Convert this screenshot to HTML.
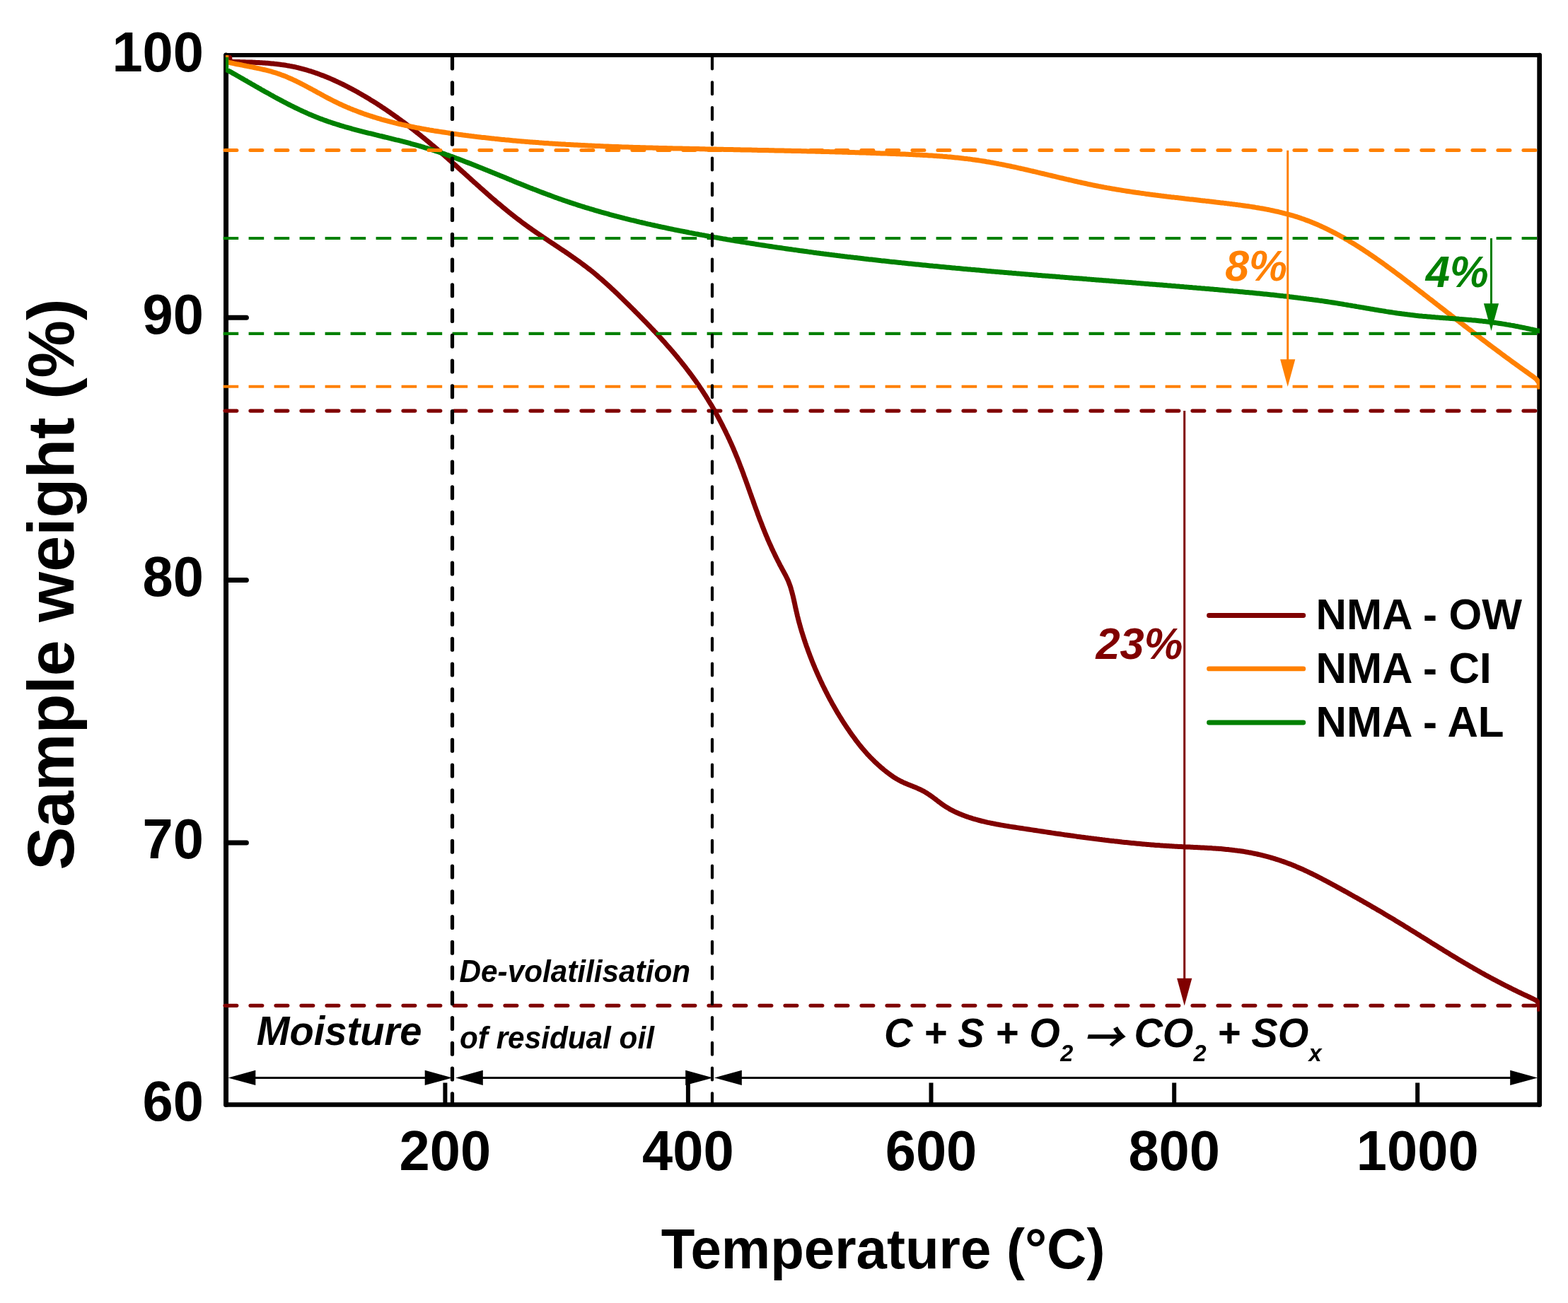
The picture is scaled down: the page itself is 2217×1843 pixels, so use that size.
<!DOCTYPE html>
<html lang="en"><head><meta charset="utf-8"><title>TGA - Sample weight vs Temperature</title>
<style>
html,body{margin:0;padding:0;background:#fff;}
body{width:2217px;height:1843px;overflow:hidden;}
svg{display:block;}
text{font-family:"Liberation Sans",Arial,Helvetica,sans-serif;}
.b{font-weight:bold;}
.bi{font-weight:bold;font-style:italic;}
.ar{font-family:"Noto Sans CJK SC","Noto Sans CJK JP","DejaVu Sans",sans-serif;}
</style></head><body>
<svg xmlns="http://www.w3.org/2000/svg" width="2217" height="1843" viewBox="0 0 2217 1843">
<rect x="0" y="0" width="2217" height="1843" fill="#ffffff"/>
<g stroke="#000" stroke-linecap="round" fill="none">
<line x1="319.55" y1="78.00" x2="2176.65" y2="78.00" stroke-width="6.2"/>
<line x1="319.55" y1="1562.45" x2="2176.65" y2="1562.45" stroke-width="6.5"/>
<line x1="319.55" y1="78.00" x2="319.55" y2="1562.45" stroke-width="7.0"/>
<line x1="2176.65" y1="78.00" x2="2176.65" y2="1562.45" stroke-width="6.7"/>
</g>
<g stroke="#000" stroke-width="6" stroke-linecap="butt">
<line x1="629.4" y1="1562.5" x2="629.4" y2="1531.5"/>
<line x1="972.9" y1="1562.5" x2="972.9" y2="1531.5"/>
<line x1="1316.5" y1="1562.5" x2="1316.5" y2="1531.5"/>
<line x1="1660.2" y1="1562.5" x2="1660.2" y2="1531.5"/>
<line x1="2004.2" y1="1562.5" x2="2004.2" y2="1531.5"/>
</g>
<g stroke="#000" stroke-width="7" stroke-linecap="round">
<line x1="319.6" y1="449.3" x2="348.4" y2="449.3"/>
<line x1="319.6" y1="820.4" x2="348.4" y2="820.4"/>
<line x1="319.6" y1="1192.0" x2="348.4" y2="1192.0"/>
</g>
<clipPath id="plot"><rect x="319.0" y="78.0" width="1858.0" height="1484.4"/></clipPath>
<g fill="none" stroke-width="7.0" stroke-linejoin="round" stroke-linecap="butt" clip-path="url(#plot)">
<path d="M320.1 81.0 L324.6 81.2 L325.6 86.8 L330.2 87.5 L332.2 87.5 L334.2 87.5 L336.2 87.6 L338.1 87.6 L340.1 87.7 L342.1 87.7 L344.1 87.8 L346.1 87.8 L348.1 87.9 L350.1 87.9 L352.1 88.0 L354.1 88.0 L356.1 88.1 L358.1 88.2 L360.1 88.3 L362.1 88.4 L364.1 88.5 L366.1 88.6 L368.1 88.7 L370.1 88.8 L372.1 88.9 L374.1 89.0 L376.1 89.2 L378.1 89.3 L380.1 89.5 L382.1 89.7 L384.1 89.9 L386.1 90.0 L388.1 90.3 L390.1 90.5 L392.1 90.7 L394.1 90.9 L396.1 91.2 L398.0 91.5 L400.0 91.7 L402.0 92.0 L404.0 92.3 L405.9 92.7 L407.9 93.0 L409.9 93.4 L411.8 93.7 L413.8 94.1 L415.7 94.5 L417.7 94.9 L419.6 95.4 L421.6 95.8 L423.5 96.3 L425.4 96.8 L427.4 97.3 L429.3 97.8 L431.2 98.4 L433.1 98.9 L435.0 99.5 L436.9 100.1 L438.9 100.6 L440.8 101.3 L442.6 101.9 L444.5 102.5 L446.4 103.2 L448.3 103.8 L450.2 104.5 L452.1 105.2 L453.9 105.9 L455.8 106.6 L457.7 107.3 L459.5 108.1 L461.4 108.8 L463.2 109.6 L465.1 110.3 L466.9 111.1 L468.7 111.9 L470.6 112.7 L472.4 113.5 L474.2 114.4 L476.0 115.2 L477.9 116.1 L479.7 116.9 L481.5 117.8 L483.3 118.6 L485.1 119.5 L486.9 120.4 L488.7 121.3 L490.4 122.2 L492.2 123.1 L494.0 124.1 L495.8 125.0 L497.5 125.9 L499.3 126.9 L501.1 127.8 L502.8 128.8 L504.6 129.8 L506.3 130.7 L508.0 131.7 L509.8 132.7 L511.5 133.7 L513.2 134.7 L515.0 135.7 L516.7 136.7 L518.4 137.8 L520.1 138.8 L521.8 139.8 L523.5 140.9 L525.2 141.9 L526.9 142.9 L528.6 144.0 L530.3 145.1 L532.0 146.1 L533.7 147.2 L535.3 148.3 L537.0 149.4 L538.7 150.5 L540.3 151.6 L542.0 152.7 L543.7 153.8 L545.3 154.9 L547.0 156.0 L548.6 157.2 L550.3 158.3 L551.9 159.4 L553.5 160.6 L555.2 161.7 L556.8 162.9 L558.4 164.0 L560.0 165.2 L561.7 166.3 L563.3 167.5 L564.9 168.7 L566.5 169.9 L568.1 171.1 L569.7 172.2 L571.3 173.4 L572.9 174.6 L574.5 175.8 L576.1 177.0 L577.7 178.3 L579.3 179.5 L580.9 180.7 L582.4 181.9 L584.0 183.1 L585.6 184.4 L587.2 185.6 L588.7 186.9 L590.3 188.1 L591.8 189.3 L593.4 190.6 L595.0 191.8 L596.5 193.1 L598.1 194.4 L599.6 195.6 L601.2 196.9 L602.7 198.2 L604.3 199.4 L605.8 200.7 L607.3 202.0 L608.9 203.3 L610.4 204.6 L611.9 205.9 L613.5 207.1 L615.0 208.4 L616.5 209.7 L618.0 211.0 L619.5 212.3 L621.1 213.6 L622.6 215.0 L624.1 216.3 L625.6 217.6 L627.1 218.9 L628.6 220.2 L630.1 221.5 L631.6 222.8 L633.1 224.2 L634.6 225.5 L636.1 226.8 L637.6 228.2 L639.1 229.5 L640.6 230.8 L642.1 232.1 L643.6 233.5 L645.1 234.8 L646.6 236.1 L648.0 237.5 L649.5 238.8 L651.0 240.2 L652.5 241.5 L654.0 242.8 L655.5 244.2 L657.0 245.5 L658.4 246.9 L659.9 248.2 L661.4 249.5 L662.9 250.9 L664.4 252.2 L665.9 253.6 L667.3 254.9 L668.8 256.2 L670.3 257.6 L671.8 258.9 L673.3 260.2 L674.8 261.6 L676.3 262.9 L677.8 264.2 L679.2 265.6 L680.7 266.9 L682.2 268.2 L683.7 269.5 L685.2 270.9 L686.7 272.2 L688.2 273.5 L689.7 274.8 L691.2 276.1 L692.7 277.5 L694.2 278.8 L695.7 280.1 L697.2 281.4 L698.8 282.7 L700.3 284.0 L701.8 285.3 L703.3 286.6 L704.8 287.9 L706.4 289.1 L707.9 290.4 L709.4 291.7 L710.9 293.0 L712.5 294.3 L714.0 295.5 L715.6 296.8 L717.1 298.1 L718.7 299.3 L720.2 300.6 L721.8 301.8 L723.3 303.1 L724.9 304.3 L726.5 305.5 L728.0 306.8 L729.6 308.0 L731.2 309.2 L732.8 310.4 L734.4 311.6 L735.9 312.8 L737.5 314.0 L739.1 315.2 L740.7 316.4 L742.4 317.6 L744.0 318.8 L745.6 320.0 L747.2 321.1 L748.8 322.3 L750.5 323.4 L752.1 324.6 L753.8 325.7 L755.4 326.9 L757.0 328.0 L758.7 329.2 L760.3 330.3 L762.0 331.4 L763.7 332.5 L765.3 333.7 L767.0 334.8 L768.6 335.9 L770.3 337.0 L772.0 338.1 L773.6 339.2 L775.3 340.4 L777.0 341.5 L778.7 342.6 L780.3 343.7 L782.0 344.8 L783.7 345.9 L785.3 347.0 L787.0 348.1 L788.7 349.2 L790.3 350.3 L792.0 351.5 L793.7 352.6 L795.3 353.7 L797.0 354.8 L798.7 355.9 L800.3 357.0 L802.0 358.2 L803.6 359.3 L805.3 360.4 L806.9 361.6 L808.6 362.7 L810.2 363.9 L811.9 365.0 L813.5 366.2 L815.1 367.3 L816.7 368.5 L818.4 369.6 L820.0 370.8 L821.6 372.0 L823.2 373.2 L824.8 374.4 L826.4 375.6 L828.0 376.8 L829.6 378.0 L831.2 379.2 L832.7 380.4 L834.3 381.6 L835.9 382.9 L837.4 384.1 L839.0 385.4 L840.5 386.6 L842.0 387.9 L843.6 389.2 L845.1 390.5 L846.6 391.8 L848.1 393.1 L849.6 394.4 L851.1 395.7 L852.6 397.0 L854.1 398.3 L855.6 399.6 L857.1 401.0 L858.6 402.3 L860.0 403.6 L861.5 405.0 L863.0 406.3 L864.4 407.7 L865.9 409.1 L867.3 410.4 L868.8 411.8 L870.2 413.2 L871.7 414.5 L873.1 415.9 L874.6 417.3 L876.0 418.7 L877.4 420.1 L878.9 421.5 L880.3 422.9 L881.7 424.3 L883.2 425.7 L884.6 427.1 L886.0 428.5 L887.4 429.9 L888.9 431.3 L890.3 432.7 L891.7 434.1 L893.1 435.5 L894.5 436.9 L895.9 438.3 L897.4 439.8 L898.8 441.2 L900.2 442.6 L901.6 444.0 L903.0 445.4 L904.4 446.9 L905.8 448.3 L907.2 449.7 L908.6 451.1 L910.0 452.6 L911.4 454.0 L912.8 455.4 L914.2 456.9 L915.6 458.3 L917.0 459.8 L918.3 461.2 L919.7 462.7 L921.1 464.1 L922.5 465.6 L923.8 467.0 L925.2 468.5 L926.6 469.9 L927.9 471.4 L929.3 472.9 L930.7 474.3 L932.0 475.8 L933.4 477.3 L934.7 478.8 L936.0 480.3 L937.4 481.7 L938.7 483.2 L940.1 484.7 L941.4 486.2 L942.7 487.7 L944.0 489.2 L945.3 490.7 L946.7 492.2 L948.0 493.7 L949.3 495.2 L950.6 496.7 L951.9 498.3 L953.2 499.8 L954.4 501.3 L955.7 502.8 L957.0 504.4 L958.3 505.9 L959.5 507.5 L960.8 509.0 L962.1 510.5 L963.3 512.1 L964.6 513.7 L965.8 515.2 L967.0 516.8 L968.3 518.3 L969.5 519.9 L970.7 521.5 L971.9 523.1 L973.1 524.7 L974.3 526.3 L975.5 527.8 L976.7 529.4 L977.9 531.0 L979.1 532.7 L980.3 534.3 L981.4 535.9 L982.6 537.5 L983.7 539.1 L984.9 540.8 L986.0 542.4 L987.2 544.0 L988.3 545.7 L989.4 547.3 L990.5 549.0 L991.7 550.6 L992.8 552.3 L993.8 554.0 L994.9 555.6 L996.0 557.3 L997.1 559.0 L998.2 560.7 L999.2 562.4 L1000.3 564.1 L1001.3 565.8 L1002.4 567.5 L1003.4 569.2 L1004.4 570.9 L1005.5 572.6 L1006.5 574.3 L1007.5 576.1 L1008.5 577.8 L1009.5 579.5 L1010.5 581.3 L1011.5 583.0 L1012.4 584.7 L1013.4 586.5 L1014.4 588.2 L1015.3 590.0 L1016.3 591.8 L1017.2 593.5 L1018.1 595.3 L1019.1 597.1 L1020.0 598.8 L1020.9 600.6 L1021.8 602.4 L1022.7 604.2 L1023.6 606.0 L1024.5 607.8 L1025.4 609.6 L1026.3 611.4 L1027.1 613.2 L1028.0 615.0 L1028.9 616.8 L1029.7 618.6 L1030.6 620.4 L1031.4 622.2 L1032.2 624.0 L1033.1 625.9 L1033.9 627.7 L1034.7 629.5 L1035.5 631.3 L1036.3 633.2 L1037.1 635.0 L1037.9 636.9 L1038.6 638.7 L1039.4 640.5 L1040.2 642.4 L1040.9 644.2 L1041.7 646.1 L1042.5 647.9 L1043.2 649.8 L1043.9 651.7 L1044.7 653.5 L1045.4 655.4 L1046.1 657.2 L1046.8 659.1 L1047.5 661.0 L1048.3 662.8 L1049.0 664.7 L1049.7 666.6 L1050.4 668.4 L1051.1 670.3 L1051.7 672.2 L1052.4 674.1 L1053.1 675.9 L1053.8 677.8 L1054.5 679.7 L1055.2 681.6 L1055.8 683.5 L1056.5 685.3 L1057.2 687.2 L1057.9 689.1 L1058.5 691.0 L1059.2 692.9 L1059.9 694.8 L1060.5 696.6 L1061.2 698.5 L1061.9 700.4 L1062.5 702.3 L1063.2 704.2 L1063.9 706.0 L1064.6 707.9 L1065.2 709.8 L1065.9 711.7 L1066.6 713.6 L1067.2 715.4 L1067.9 717.3 L1068.6 719.2 L1069.3 721.1 L1070.0 723.0 L1070.7 724.8 L1071.3 726.7 L1072.0 728.6 L1072.7 730.4 L1073.4 732.3 L1074.1 734.2 L1074.8 736.1 L1075.6 737.9 L1076.3 739.8 L1077.0 741.6 L1077.7 743.5 L1078.4 745.4 L1079.2 747.2 L1079.9 749.1 L1080.7 750.9 L1081.4 752.8 L1082.2 754.6 L1082.9 756.5 L1083.7 758.3 L1084.5 760.1 L1085.2 762.0 L1086.0 763.8 L1086.8 765.6 L1087.6 767.5 L1088.4 769.3 L1089.3 771.1 L1090.1 772.9 L1090.9 774.8 L1091.7 776.6 L1092.6 778.4 L1093.4 780.2 L1094.3 782.0 L1095.2 783.8 L1096.0 785.6 L1096.9 787.4 L1097.8 789.2 L1098.7 791.0 L1099.6 792.8 L1100.5 794.5 L1101.4 796.3 L1102.3 798.1 L1103.2 799.9 L1104.2 801.6 L1105.1 803.4 L1106.1 805.2 L1107.0 806.9 L1108.0 808.7 L1108.9 810.4 L1109.9 812.2 L1110.8 813.9 L1111.7 815.7 L1112.6 817.5 L1113.4 819.3 L1114.3 821.1 L1115.0 822.9 L1115.7 824.8 L1116.4 826.7 L1117.1 828.5 L1117.7 830.4 L1118.3 832.3 L1118.8 834.2 L1119.4 836.2 L1119.9 838.1 L1120.4 840.0 L1120.9 842.0 L1121.4 843.9 L1121.8 845.9 L1122.3 847.8 L1122.7 849.8 L1123.1 851.7 L1123.6 853.7 L1124.0 855.6 L1124.4 857.6 L1124.8 859.6 L1125.3 861.5 L1125.7 863.5 L1126.2 865.4 L1126.6 867.4 L1127.1 869.3 L1127.5 871.3 L1128.0 873.2 L1128.5 875.2 L1129.0 877.1 L1129.5 879.0 L1130.0 881.0 L1130.6 882.9 L1131.1 884.8 L1131.6 886.8 L1132.2 888.7 L1132.8 890.6 L1133.3 892.5 L1133.9 894.4 L1134.5 896.3 L1135.1 898.2 L1135.7 900.1 L1136.3 902.0 L1136.9 903.9 L1137.5 905.8 L1138.2 907.7 L1138.8 909.6 L1139.5 911.5 L1140.1 913.4 L1140.8 915.2 L1141.5 917.1 L1142.1 919.0 L1142.8 920.9 L1143.5 922.8 L1144.2 924.6 L1144.9 926.5 L1145.6 928.4 L1146.3 930.2 L1147.1 932.1 L1147.8 933.9 L1148.5 935.8 L1149.3 937.6 L1150.0 939.5 L1150.8 941.3 L1151.6 943.2 L1152.3 945.0 L1153.1 946.9 L1153.9 948.7 L1154.7 950.5 L1155.5 952.4 L1156.3 954.2 L1157.1 956.0 L1158.0 957.8 L1158.8 959.7 L1159.6 961.5 L1160.5 963.3 L1161.3 965.1 L1162.2 966.9 L1163.0 968.7 L1163.9 970.5 L1164.8 972.3 L1165.7 974.1 L1166.6 975.9 L1167.5 977.7 L1168.4 979.5 L1169.3 981.2 L1170.2 983.0 L1171.1 984.8 L1172.1 986.6 L1173.0 988.3 L1173.9 990.1 L1174.9 991.8 L1175.9 993.6 L1176.8 995.3 L1177.8 997.1 L1178.8 998.8 L1179.8 1000.6 L1180.8 1002.3 L1181.8 1004.0 L1182.8 1005.8 L1183.8 1007.5 L1184.8 1009.2 L1185.9 1010.9 L1186.9 1012.6 L1188.0 1014.3 L1189.0 1016.0 L1190.1 1017.7 L1191.1 1019.4 L1192.2 1021.1 L1193.3 1022.8 L1194.4 1024.4 L1195.5 1026.1 L1196.6 1027.8 L1197.7 1029.4 L1198.8 1031.1 L1200.0 1032.7 L1201.1 1034.4 L1202.2 1036.0 L1203.4 1037.7 L1204.5 1039.3 L1205.7 1040.9 L1206.9 1042.5 L1208.1 1044.1 L1209.2 1045.7 L1210.4 1047.3 L1211.6 1048.9 L1212.9 1050.5 L1214.1 1052.1 L1215.3 1053.6 L1216.6 1055.2 L1217.8 1056.7 L1219.1 1058.3 L1220.4 1059.8 L1221.7 1061.3 L1223.0 1062.8 L1224.3 1064.3 L1225.6 1065.8 L1227.0 1067.3 L1228.3 1068.7 L1229.7 1070.2 L1231.1 1071.6 L1232.5 1073.0 L1233.9 1074.4 L1235.3 1075.8 L1236.7 1077.2 L1238.2 1078.6 L1239.6 1079.9 L1241.1 1081.3 L1242.6 1082.6 L1244.1 1084.0 L1245.6 1085.3 L1247.1 1086.6 L1248.6 1087.8 L1250.1 1089.1 L1251.7 1090.4 L1253.2 1091.6 L1254.8 1092.8 L1256.4 1094.0 L1258.0 1095.2 L1259.6 1096.3 L1261.2 1097.5 L1262.8 1098.6 L1264.5 1099.7 L1266.2 1100.7 L1267.8 1101.7 L1269.6 1102.7 L1271.3 1103.7 L1273.0 1104.6 L1274.8 1105.5 L1276.6 1106.4 L1278.4 1107.2 L1280.2 1108.0 L1282.1 1108.8 L1283.9 1109.6 L1285.8 1110.3 L1287.7 1111.1 L1289.6 1111.8 L1291.4 1112.6 L1293.3 1113.3 L1295.2 1114.1 L1297.0 1114.9 L1298.8 1115.7 L1300.7 1116.5 L1302.5 1117.4 L1304.3 1118.3 L1306.0 1119.2 L1307.8 1120.2 L1309.5 1121.2 L1311.2 1122.3 L1312.8 1123.4 L1314.5 1124.5 L1316.1 1125.6 L1317.8 1126.8 L1319.4 1128.0 L1321.0 1129.2 L1322.6 1130.4 L1324.2 1131.6 L1325.8 1132.9 L1327.4 1134.1 L1329.0 1135.3 L1330.6 1136.5 L1332.2 1137.6 L1333.9 1138.8 L1335.5 1139.9 L1337.2 1141.0 L1338.9 1142.1 L1340.6 1143.1 L1342.3 1144.1 L1344.1 1145.1 L1345.8 1146.0 L1347.6 1146.9 L1349.4 1147.8 L1351.2 1148.7 L1353.0 1149.5 L1354.8 1150.3 L1356.6 1151.1 L1358.5 1151.8 L1360.3 1152.6 L1362.2 1153.3 L1364.1 1154.0 L1365.9 1154.7 L1367.8 1155.3 L1369.7 1156.0 L1371.6 1156.6 L1373.5 1157.2 L1375.4 1157.8 L1377.3 1158.3 L1379.2 1158.9 L1381.1 1159.4 L1383.0 1160.0 L1385.0 1160.5 L1386.9 1161.0 L1388.8 1161.5 L1390.8 1161.9 L1392.7 1162.4 L1394.6 1162.8 L1396.6 1163.3 L1398.5 1163.7 L1400.5 1164.1 L1402.4 1164.5 L1404.4 1164.9 L1406.4 1165.3 L1408.3 1165.7 L1410.3 1166.0 L1412.2 1166.4 L1414.2 1166.8 L1416.2 1167.1 L1418.2 1167.4 L1420.1 1167.8 L1422.1 1168.1 L1424.1 1168.4 L1426.1 1168.8 L1428.0 1169.1 L1430.0 1169.4 L1432.0 1169.7 L1434.0 1170.0 L1435.9 1170.3 L1437.9 1170.6 L1439.9 1170.9 L1441.9 1171.2 L1443.9 1171.5 L1445.9 1171.8 L1447.8 1172.1 L1449.8 1172.4 L1451.8 1172.7 L1453.8 1173.0 L1455.7 1173.3 L1457.7 1173.6 L1459.7 1173.9 L1461.7 1174.2 L1463.7 1174.5 L1465.6 1174.8 L1467.6 1175.1 L1469.6 1175.4 L1471.6 1175.7 L1473.6 1176.0 L1475.5 1176.3 L1477.5 1176.6 L1479.5 1176.9 L1481.5 1177.2 L1483.5 1177.5 L1485.4 1177.8 L1487.4 1178.1 L1489.4 1178.4 L1491.4 1178.7 L1493.3 1179.0 L1495.3 1179.2 L1497.3 1179.5 L1499.3 1179.8 L1501.3 1180.1 L1503.2 1180.4 L1505.2 1180.7 L1507.2 1180.9 L1509.2 1181.2 L1511.2 1181.5 L1513.1 1181.8 L1515.1 1182.1 L1517.1 1182.3 L1519.1 1182.6 L1521.1 1182.9 L1523.0 1183.2 L1525.0 1183.4 L1527.0 1183.7 L1529.0 1184.0 L1531.0 1184.2 L1532.9 1184.5 L1534.9 1184.8 L1536.9 1185.0 L1538.9 1185.3 L1540.9 1185.5 L1542.8 1185.8 L1544.8 1186.0 L1546.8 1186.3 L1548.8 1186.5 L1550.8 1186.8 L1552.7 1187.0 L1554.7 1187.3 L1556.7 1187.5 L1558.7 1187.8 L1560.7 1188.0 L1562.6 1188.3 L1564.6 1188.5 L1566.6 1188.7 L1568.6 1189.0 L1570.6 1189.2 L1572.6 1189.4 L1574.5 1189.6 L1576.5 1189.9 L1578.5 1190.1 L1580.5 1190.3 L1582.5 1190.5 L1584.5 1190.7 L1586.4 1191.0 L1588.4 1191.2 L1590.4 1191.4 L1592.4 1191.6 L1594.4 1191.8 L1596.4 1192.0 L1598.4 1192.2 L1600.3 1192.4 L1602.3 1192.6 L1604.3 1192.8 L1606.3 1193.0 L1608.3 1193.2 L1610.3 1193.3 L1612.3 1193.5 L1614.3 1193.7 L1616.2 1193.9 L1618.2 1194.1 L1620.2 1194.2 L1622.2 1194.4 L1624.2 1194.6 L1626.2 1194.7 L1628.2 1194.9 L1630.2 1195.0 L1632.2 1195.2 L1634.2 1195.4 L1636.2 1195.5 L1638.2 1195.6 L1640.1 1195.8 L1642.1 1195.9 L1644.1 1196.1 L1646.1 1196.2 L1648.1 1196.3 L1650.1 1196.5 L1652.1 1196.6 L1654.1 1196.7 L1656.1 1196.8 L1658.1 1196.9 L1660.1 1197.1 L1662.1 1197.2 L1664.1 1197.3 L1666.1 1197.4 L1668.1 1197.5 L1670.1 1197.6 L1672.1 1197.7 L1674.1 1197.8 L1676.1 1197.9 L1678.1 1197.9 L1680.1 1198.0 L1682.1 1198.1 L1684.1 1198.2 L1686.1 1198.3 L1688.1 1198.4 L1690.1 1198.5 L1692.1 1198.6 L1694.1 1198.7 L1696.1 1198.8 L1698.1 1198.9 L1700.1 1199.0 L1702.1 1199.1 L1704.1 1199.2 L1706.1 1199.3 L1708.1 1199.4 L1710.1 1199.5 L1712.1 1199.6 L1714.1 1199.8 L1716.1 1199.9 L1718.1 1200.0 L1720.1 1200.2 L1722.1 1200.3 L1724.1 1200.5 L1726.0 1200.6 L1728.0 1200.8 L1730.0 1201.0 L1732.0 1201.2 L1734.0 1201.4 L1736.0 1201.5 L1738.0 1201.8 L1740.0 1202.0 L1741.9 1202.2 L1743.9 1202.4 L1745.9 1202.7 L1747.9 1202.9 L1749.9 1203.2 L1751.8 1203.4 L1753.8 1203.7 L1755.8 1204.0 L1757.8 1204.3 L1759.7 1204.6 L1761.7 1205.0 L1763.7 1205.3 L1765.6 1205.7 L1767.6 1206.0 L1769.6 1206.4 L1771.5 1206.8 L1773.5 1207.2 L1775.4 1207.6 L1777.4 1208.0 L1779.3 1208.5 L1781.3 1208.9 L1783.2 1209.4 L1785.2 1209.9 L1787.1 1210.4 L1789.0 1210.9 L1791.0 1211.4 L1792.9 1211.9 L1794.8 1212.4 L1796.8 1213.0 L1798.7 1213.5 L1800.6 1214.1 L1802.5 1214.7 L1804.4 1215.3 L1806.3 1215.9 L1808.2 1216.5 L1810.1 1217.1 L1812.0 1217.8 L1813.9 1218.4 L1815.8 1219.1 L1817.7 1219.8 L1819.5 1220.5 L1821.4 1221.2 L1823.3 1221.9 L1825.1 1222.6 L1827.0 1223.3 L1828.8 1224.1 L1830.7 1224.8 L1832.5 1225.6 L1834.4 1226.4 L1836.2 1227.2 L1838.0 1228.0 L1839.8 1228.8 L1841.7 1229.6 L1843.5 1230.4 L1845.3 1231.3 L1847.1 1232.1 L1848.9 1232.9 L1850.7 1233.8 L1852.5 1234.7 L1854.3 1235.5 L1856.1 1236.4 L1857.9 1237.3 L1859.7 1238.2 L1861.5 1239.1 L1863.3 1240.0 L1865.0 1240.9 L1866.8 1241.8 L1868.6 1242.7 L1870.4 1243.7 L1872.1 1244.6 L1873.9 1245.5 L1875.7 1246.5 L1877.4 1247.4 L1879.2 1248.4 L1881.0 1249.3 L1882.7 1250.3 L1884.5 1251.2 L1886.2 1252.2 L1888.0 1253.1 L1889.7 1254.1 L1891.5 1255.1 L1893.3 1256.0 L1895.0 1257.0 L1896.8 1257.9 L1898.5 1258.9 L1900.3 1259.9 L1902.0 1260.8 L1903.8 1261.8 L1905.5 1262.8 L1907.2 1263.8 L1909.0 1264.7 L1910.7 1265.7 L1912.5 1266.7 L1914.2 1267.7 L1916.0 1268.7 L1917.7 1269.6 L1919.4 1270.6 L1921.2 1271.6 L1922.9 1272.6 L1924.7 1273.6 L1926.4 1274.6 L1928.1 1275.6 L1929.9 1276.6 L1931.6 1277.6 L1933.3 1278.6 L1935.1 1279.5 L1936.8 1280.5 L1938.5 1281.5 L1940.2 1282.6 L1942.0 1283.6 L1943.7 1284.6 L1945.4 1285.6 L1947.1 1286.6 L1948.9 1287.6 L1950.6 1288.6 L1952.3 1289.6 L1954.0 1290.6 L1955.7 1291.6 L1957.5 1292.7 L1959.2 1293.7 L1960.9 1294.7 L1962.6 1295.7 L1964.3 1296.7 L1966.0 1297.8 L1967.8 1298.8 L1969.5 1299.8 L1971.2 1300.8 L1972.9 1301.9 L1974.6 1302.9 L1976.3 1303.9 L1978.0 1305.0 L1979.7 1306.0 L1981.4 1307.1 L1983.1 1308.1 L1984.8 1309.1 L1986.5 1310.2 L1988.2 1311.2 L1989.9 1312.3 L1991.6 1313.3 L1993.3 1314.4 L1995.0 1315.4 L1996.7 1316.5 L1998.4 1317.5 L2000.1 1318.6 L2001.8 1319.6 L2003.5 1320.7 L2005.2 1321.7 L2006.9 1322.8 L2008.6 1323.9 L2010.3 1324.9 L2012.0 1326.0 L2013.7 1327.0 L2015.4 1328.1 L2017.1 1329.1 L2018.8 1330.2 L2020.4 1331.3 L2022.1 1332.3 L2023.8 1333.4 L2025.5 1334.4 L2027.2 1335.5 L2028.9 1336.5 L2030.6 1337.6 L2032.3 1338.6 L2034.0 1339.7 L2035.7 1340.7 L2037.4 1341.8 L2039.1 1342.8 L2040.8 1343.9 L2042.5 1344.9 L2044.2 1346.0 L2045.9 1347.0 L2047.6 1348.1 L2049.3 1349.1 L2051.0 1350.2 L2052.7 1351.2 L2054.4 1352.2 L2056.1 1353.3 L2057.8 1354.3 L2059.5 1355.3 L2061.3 1356.4 L2063.0 1357.4 L2064.7 1358.4 L2066.4 1359.5 L2068.1 1360.5 L2069.8 1361.5 L2071.5 1362.5 L2073.3 1363.5 L2075.0 1364.5 L2076.7 1365.6 L2078.4 1366.6 L2080.2 1367.6 L2081.9 1368.6 L2083.6 1369.6 L2085.4 1370.6 L2087.1 1371.5 L2088.8 1372.5 L2090.6 1373.5 L2092.3 1374.5 L2094.0 1375.5 L2095.8 1376.5 L2097.5 1377.4 L2099.3 1378.4 L2101.0 1379.4 L2102.8 1380.3 L2104.5 1381.3 L2106.3 1382.2 L2108.1 1383.2 L2109.8 1384.1 L2111.6 1385.1 L2113.4 1386.0 L2115.1 1386.9 L2116.9 1387.9 L2118.7 1388.8 L2120.4 1389.7 L2122.2 1390.6 L2124.0 1391.6 L2125.8 1392.5 L2127.5 1393.4 L2129.3 1394.3 L2131.1 1395.2 L2132.9 1396.1 L2134.7 1397.0 L2136.5 1397.9 L2138.3 1398.8 L2140.0 1399.7 L2141.8 1400.5 L2143.6 1401.4 L2145.4 1402.3 L2147.2 1403.2 L2149.0 1404.0 L2150.8 1404.9 L2152.6 1405.8 L2154.4 1406.6 L2156.3 1407.5 L2158.1 1408.3 L2159.9 1409.1 L2161.7 1410.0 L2163.5 1410.8 L2165.3 1411.7 L2167.1 1412.5 L2172.6 1415.4 L2176.0 1419.5 L2176.9 1430.5" stroke="#800000"/>
<path d="M319.6 77.0 L319.9 86.5 L323.0 88.2 L324.9 88.6 L326.9 89.0 L328.8 89.4 L330.8 89.9 L332.7 90.3 L334.7 90.7 L336.6 91.0 L338.6 91.4 L340.6 91.8 L342.5 92.2 L344.5 92.6 L346.5 93.0 L348.4 93.4 L350.4 93.7 L352.4 94.1 L354.4 94.5 L356.3 94.9 L358.3 95.3 L360.3 95.7 L362.2 96.1 L364.2 96.5 L366.1 96.9 L368.1 97.4 L370.1 97.8 L372.0 98.3 L374.0 98.7 L375.9 99.2 L377.8 99.7 L379.8 100.2 L381.7 100.7 L383.6 101.2 L385.6 101.8 L387.5 102.4 L389.4 102.9 L391.3 103.5 L393.2 104.2 L395.1 104.8 L396.9 105.5 L398.8 106.2 L400.7 106.9 L402.5 107.6 L404.4 108.3 L406.2 109.1 L408.1 109.9 L409.9 110.7 L411.7 111.5 L413.5 112.3 L415.3 113.2 L417.2 114.0 L419.0 114.9 L420.8 115.8 L422.6 116.7 L424.4 117.6 L426.2 118.5 L427.9 119.4 L429.7 120.3 L431.5 121.3 L433.3 122.2 L435.1 123.2 L436.8 124.1 L438.6 125.1 L440.4 126.0 L442.2 127.0 L443.9 128.0 L445.7 128.9 L447.5 129.9 L449.2 130.9 L451.0 131.8 L452.8 132.8 L454.5 133.8 L456.3 134.7 L458.1 135.7 L459.9 136.7 L461.6 137.6 L463.4 138.6 L465.2 139.5 L467.0 140.4 L468.8 141.3 L470.6 142.3 L472.4 143.2 L474.2 144.0 L476.0 144.9 L477.8 145.8 L479.6 146.7 L481.4 147.5 L483.2 148.3 L485.0 149.2 L486.8 150.0 L488.7 150.8 L490.5 151.6 L492.3 152.4 L494.2 153.1 L496.0 153.9 L497.8 154.6 L499.7 155.4 L501.5 156.1 L503.4 156.8 L505.3 157.5 L507.1 158.2 L509.0 158.9 L510.9 159.6 L512.7 160.3 L514.6 161.0 L516.5 161.6 L518.4 162.3 L520.2 162.9 L522.1 163.5 L524.0 164.1 L525.9 164.7 L527.8 165.3 L529.7 165.9 L531.6 166.5 L533.5 167.1 L535.4 167.7 L537.3 168.2 L539.2 168.8 L541.1 169.3 L543.0 169.8 L545.0 170.4 L546.9 170.9 L548.8 171.4 L550.7 171.9 L552.6 172.4 L554.6 172.9 L556.5 173.4 L558.4 173.9 L560.4 174.3 L562.3 174.8 L564.2 175.3 L566.2 175.7 L568.1 176.2 L570.1 176.6 L572.0 177.0 L574.0 177.5 L575.9 177.9 L577.9 178.3 L579.8 178.7 L581.8 179.1 L583.7 179.5 L585.7 179.9 L587.6 180.3 L589.6 180.7 L591.6 181.0 L593.5 181.4 L595.5 181.8 L597.4 182.1 L599.4 182.5 L601.4 182.8 L603.3 183.2 L605.3 183.5 L607.3 183.9 L609.3 184.2 L611.2 184.5 L613.2 184.9 L615.2 185.2 L617.1 185.5 L619.1 185.8 L621.1 186.1 L623.1 186.4 L625.0 186.7 L627.0 187.0 L629.0 187.3 L631.0 187.6 L633.0 187.9 L634.9 188.2 L636.9 188.5 L638.9 188.8 L640.9 189.1 L642.8 189.4 L644.8 189.6 L646.8 189.9 L648.8 190.2 L650.8 190.4 L652.8 190.7 L654.7 191.0 L656.7 191.2 L658.7 191.5 L660.7 191.7 L662.7 192.0 L664.6 192.2 L666.6 192.5 L668.6 192.7 L670.6 193.0 L672.6 193.2 L674.6 193.5 L676.5 193.7 L678.5 193.9 L680.5 194.2 L682.5 194.4 L684.5 194.6 L686.5 194.8 L688.5 195.1 L690.4 195.3 L692.4 195.5 L694.4 195.7 L696.4 195.9 L698.4 196.1 L700.4 196.4 L702.4 196.6 L704.4 196.8 L706.3 197.0 L708.3 197.2 L710.3 197.4 L712.3 197.6 L714.3 197.8 L716.3 197.9 L718.3 198.1 L720.3 198.3 L722.3 198.5 L724.2 198.7 L726.2 198.9 L728.2 199.0 L730.2 199.2 L732.2 199.4 L734.2 199.6 L736.2 199.7 L738.2 199.9 L740.2 200.1 L742.2 200.2 L744.2 200.4 L746.1 200.6 L748.1 200.7 L750.1 200.9 L752.1 201.0 L754.1 201.2 L756.1 201.3 L758.1 201.5 L760.1 201.6 L762.1 201.8 L764.1 201.9 L766.1 202.1 L768.1 202.2 L770.1 202.4 L772.1 202.5 L774.1 202.6 L776.0 202.8 L778.0 202.9 L780.0 203.0 L782.0 203.2 L784.0 203.3 L786.0 203.4 L788.0 203.5 L790.0 203.7 L792.0 203.8 L794.0 203.9 L796.0 204.0 L798.0 204.1 L800.0 204.3 L802.0 204.4 L804.0 204.5 L806.0 204.6 L808.0 204.7 L810.0 204.8 L812.0 204.9 L814.0 205.0 L816.0 205.1 L818.0 205.2 L820.0 205.3 L822.0 205.4 L824.0 205.5 L826.0 205.6 L828.0 205.7 L830.0 205.8 L832.0 205.9 L834.0 206.0 L836.0 206.1 L837.9 206.2 L839.9 206.3 L841.9 206.4 L843.9 206.5 L845.9 206.6 L847.9 206.6 L849.9 206.7 L851.9 206.8 L853.9 206.9 L855.9 207.0 L857.9 207.0 L859.9 207.1 L861.9 207.2 L863.9 207.3 L865.9 207.4 L867.9 207.4 L869.9 207.5 L871.9 207.6 L873.9 207.6 L875.9 207.7 L877.9 207.8 L879.9 207.9 L881.9 207.9 L883.9 208.0 L885.9 208.1 L887.9 208.1 L889.9 208.2 L891.9 208.2 L893.9 208.3 L895.9 208.4 L897.9 208.4 L899.9 208.5 L901.9 208.6 L903.9 208.6 L905.9 208.7 L907.9 208.7 L909.9 208.8 L911.9 208.8 L913.9 208.9 L915.9 209.0 L917.9 209.0 L919.9 209.1 L921.9 209.1 L923.9 209.2 L925.9 209.2 L927.9 209.3 L929.9 209.3 L931.9 209.4 L933.9 209.4 L935.9 209.5 L937.9 209.5 L939.9 209.6 L941.9 209.6 L943.9 209.7 L945.9 209.7 L947.9 209.8 L949.9 209.8 L951.9 209.9 L953.9 209.9 L955.9 209.9 L957.9 210.0 L959.9 210.0 L961.9 210.1 L963.9 210.1 L965.9 210.2 L967.9 210.2 L969.9 210.3 L971.9 210.3 L973.9 210.3 L975.9 210.4 L977.9 210.4 L979.9 210.5 L981.9 210.5 L983.9 210.6 L985.9 210.6 L987.9 210.6 L989.9 210.7 L991.9 210.7 L993.9 210.8 L995.9 210.8 L997.9 210.9 L999.9 210.9 L1001.9 210.9 L1003.9 211.0 L1005.9 211.0 L1007.9 211.1 L1009.9 211.1 L1011.9 211.1 L1013.9 211.2 L1015.9 211.2 L1017.9 211.3 L1019.9 211.3 L1021.9 211.3 L1023.9 211.4 L1025.9 211.4 L1027.9 211.5 L1029.9 211.5 L1031.9 211.5 L1033.9 211.6 L1035.9 211.6 L1037.9 211.7 L1039.9 211.7 L1041.9 211.7 L1043.9 211.8 L1045.9 211.8 L1047.8 211.9 L1049.8 211.9 L1051.8 211.9 L1053.8 212.0 L1055.8 212.0 L1057.8 212.1 L1059.8 212.1 L1061.8 212.1 L1063.8 212.2 L1065.8 212.2 L1067.8 212.3 L1069.8 212.3 L1071.8 212.4 L1073.8 212.4 L1075.8 212.4 L1077.8 212.5 L1079.8 212.5 L1081.8 212.6 L1083.8 212.6 L1085.8 212.6 L1087.8 212.7 L1089.8 212.7 L1091.8 212.8 L1093.8 212.8 L1095.8 212.9 L1097.8 212.9 L1099.8 212.9 L1101.8 213.0 L1103.8 213.0 L1105.8 213.1 L1107.8 213.1 L1109.8 213.2 L1111.8 213.2 L1113.8 213.2 L1115.7 213.3 L1117.7 213.3 L1119.7 213.4 L1121.7 213.4 L1123.7 213.5 L1125.7 213.5 L1127.7 213.6 L1129.7 213.6 L1131.7 213.6 L1133.7 213.7 L1135.7 213.7 L1137.7 213.8 L1139.7 213.8 L1141.7 213.9 L1143.7 213.9 L1145.7 214.0 L1147.7 214.0 L1149.7 214.1 L1151.7 214.1 L1153.7 214.2 L1155.7 214.2 L1157.7 214.3 L1159.7 214.3 L1161.7 214.4 L1163.7 214.4 L1165.7 214.5 L1167.7 214.5 L1169.7 214.6 L1171.7 214.6 L1173.7 214.7 L1175.7 214.7 L1177.7 214.8 L1179.7 214.8 L1181.7 214.9 L1183.6 214.9 L1185.6 215.0 L1187.6 215.1 L1189.6 215.1 L1191.6 215.2 L1193.6 215.2 L1195.6 215.3 L1197.6 215.3 L1199.6 215.4 L1201.6 215.5 L1203.6 215.5 L1205.6 215.6 L1207.6 215.6 L1209.6 215.7 L1211.6 215.8 L1213.6 215.8 L1215.6 215.9 L1217.6 215.9 L1219.6 216.0 L1221.6 216.1 L1223.6 216.1 L1225.6 216.2 L1227.6 216.3 L1229.6 216.3 L1231.6 216.4 L1233.6 216.5 L1235.6 216.5 L1237.6 216.6 L1239.6 216.7 L1241.6 216.7 L1243.6 216.8 L1245.6 216.9 L1247.6 216.9 L1249.6 217.0 L1251.6 217.1 L1253.6 217.1 L1255.6 217.2 L1257.6 217.3 L1259.6 217.4 L1261.6 217.4 L1263.6 217.5 L1265.6 217.6 L1267.6 217.7 L1269.6 217.7 L1271.6 217.8 L1273.6 217.9 L1275.6 218.0 L1277.6 218.1 L1279.6 218.1 L1281.6 218.2 L1283.6 218.3 L1285.6 218.4 L1287.6 218.5 L1289.6 218.6 L1291.6 218.7 L1293.6 218.8 L1295.6 218.9 L1297.6 219.0 L1299.6 219.1 L1301.6 219.2 L1303.6 219.3 L1305.6 219.4 L1307.6 219.5 L1309.6 219.6 L1311.5 219.7 L1313.5 219.9 L1315.5 220.0 L1317.5 220.1 L1319.5 220.2 L1321.5 220.4 L1323.5 220.5 L1325.5 220.7 L1327.5 220.8 L1329.5 221.0 L1331.5 221.1 L1333.5 221.3 L1335.5 221.4 L1337.5 221.6 L1339.5 221.8 L1341.4 221.9 L1343.4 222.1 L1345.4 222.3 L1347.4 222.5 L1349.4 222.7 L1351.4 222.9 L1353.4 223.1 L1355.4 223.3 L1357.3 223.5 L1359.3 223.7 L1361.3 223.9 L1363.3 224.2 L1365.3 224.4 L1367.3 224.6 L1369.2 224.9 L1371.2 225.1 L1373.2 225.4 L1375.2 225.7 L1377.2 225.9 L1379.1 226.2 L1381.1 226.5 L1383.1 226.8 L1385.1 227.1 L1387.0 227.4 L1389.0 227.7 L1391.0 228.0 L1392.9 228.3 L1394.9 228.7 L1396.9 229.0 L1398.9 229.3 L1400.8 229.7 L1402.8 230.0 L1404.8 230.4 L1406.7 230.8 L1408.7 231.1 L1410.6 231.5 L1412.6 231.9 L1414.6 232.2 L1416.5 232.6 L1418.5 233.0 L1420.5 233.4 L1422.4 233.8 L1424.4 234.2 L1426.3 234.6 L1428.3 235.0 L1430.3 235.5 L1432.2 235.9 L1434.2 236.3 L1436.1 236.7 L1438.1 237.1 L1440.0 237.6 L1442.0 238.0 L1443.9 238.5 L1445.9 238.9 L1447.9 239.3 L1449.8 239.8 L1451.8 240.2 L1453.7 240.7 L1455.7 241.1 L1457.6 241.6 L1459.6 242.0 L1461.5 242.5 L1463.5 242.9 L1465.4 243.4 L1467.4 243.9 L1469.3 244.3 L1471.3 244.8 L1473.2 245.3 L1475.2 245.7 L1477.1 246.2 L1479.1 246.6 L1481.0 247.1 L1483.0 247.6 L1484.9 248.0 L1486.9 248.5 L1488.8 249.0 L1490.8 249.4 L1492.7 249.9 L1494.7 250.4 L1496.6 250.8 L1498.6 251.3 L1500.5 251.8 L1502.5 252.2 L1504.4 252.7 L1506.4 253.1 L1508.3 253.6 L1510.3 254.0 L1512.2 254.5 L1514.2 254.9 L1516.1 255.4 L1518.1 255.8 L1520.0 256.3 L1522.0 256.7 L1523.9 257.2 L1525.9 257.6 L1527.8 258.0 L1529.8 258.5 L1531.7 258.9 L1533.7 259.3 L1535.7 259.7 L1537.6 260.2 L1539.6 260.6 L1541.5 261.0 L1543.5 261.4 L1545.4 261.8 L1547.4 262.2 L1549.3 262.6 L1551.3 263.0 L1553.3 263.4 L1555.2 263.7 L1557.2 264.1 L1559.1 264.5 L1561.1 264.9 L1563.1 265.2 L1565.0 265.6 L1567.0 265.9 L1569.0 266.3 L1570.9 266.6 L1572.9 267.0 L1574.8 267.3 L1576.8 267.6 L1578.8 268.0 L1580.7 268.3 L1582.7 268.6 L1584.7 268.9 L1586.6 269.3 L1588.6 269.6 L1590.6 269.9 L1592.5 270.2 L1594.5 270.5 L1596.5 270.8 L1598.5 271.1 L1600.4 271.4 L1602.4 271.7 L1604.4 272.0 L1606.3 272.3 L1608.3 272.5 L1610.3 272.8 L1612.3 273.1 L1614.2 273.4 L1616.2 273.6 L1618.2 273.9 L1620.2 274.2 L1622.1 274.4 L1624.1 274.7 L1626.1 275.0 L1628.1 275.2 L1630.0 275.5 L1632.0 275.7 L1634.0 276.0 L1636.0 276.2 L1638.0 276.5 L1639.9 276.7 L1641.9 277.0 L1643.9 277.2 L1645.9 277.5 L1647.9 277.7 L1649.8 278.0 L1651.8 278.2 L1653.8 278.4 L1655.8 278.7 L1657.8 278.9 L1659.8 279.1 L1661.7 279.4 L1663.7 279.6 L1665.7 279.8 L1667.7 280.1 L1669.7 280.3 L1671.7 280.5 L1673.6 280.7 L1675.6 281.0 L1677.6 281.2 L1679.6 281.4 L1681.6 281.7 L1683.6 281.9 L1685.6 282.1 L1687.6 282.3 L1689.5 282.6 L1691.5 282.8 L1693.5 283.0 L1695.5 283.2 L1697.5 283.5 L1699.5 283.7 L1701.5 283.9 L1703.5 284.1 L1705.5 284.4 L1707.5 284.6 L1709.5 284.8 L1711.4 285.1 L1713.4 285.3 L1715.4 285.5 L1717.4 285.7 L1719.4 286.0 L1721.4 286.2 L1723.4 286.4 L1725.4 286.7 L1727.4 286.9 L1729.4 287.1 L1731.4 287.4 L1733.4 287.6 L1735.4 287.9 L1737.4 288.1 L1739.4 288.4 L1741.4 288.6 L1743.4 288.9 L1745.4 289.1 L1747.4 289.4 L1749.3 289.6 L1751.3 289.9 L1753.3 290.1 L1755.3 290.4 L1757.3 290.7 L1759.3 291.0 L1761.3 291.3 L1763.3 291.5 L1765.3 291.8 L1767.3 292.1 L1769.2 292.4 L1771.2 292.7 L1773.2 293.0 L1775.2 293.4 L1777.2 293.7 L1779.1 294.0 L1781.1 294.4 L1783.1 294.7 L1785.1 295.0 L1787.0 295.4 L1789.0 295.8 L1791.0 296.1 L1792.9 296.5 L1794.9 296.9 L1796.8 297.3 L1798.8 297.7 L1800.7 298.1 L1802.7 298.6 L1804.6 299.0 L1806.6 299.4 L1808.5 299.9 L1810.4 300.3 L1812.4 300.8 L1814.3 301.3 L1816.2 301.8 L1818.1 302.3 L1820.1 302.8 L1822.0 303.3 L1823.9 303.8 L1825.8 304.4 L1827.7 304.9 L1829.6 305.5 L1831.5 306.1 L1833.4 306.7 L1835.2 307.3 L1837.1 307.9 L1839.0 308.5 L1840.9 309.2 L1842.7 309.8 L1844.6 310.5 L1846.4 311.2 L1848.3 311.9 L1850.1 312.6 L1852.0 313.3 L1853.8 314.0 L1855.7 314.8 L1857.5 315.5 L1859.3 316.3 L1861.1 317.0 L1863.0 317.8 L1864.8 318.6 L1866.6 319.4 L1868.4 320.3 L1870.2 321.1 L1872.0 321.9 L1873.8 322.8 L1875.6 323.6 L1877.3 324.5 L1879.1 325.4 L1880.9 326.3 L1882.7 327.2 L1884.4 328.1 L1886.2 329.0 L1888.0 329.9 L1889.7 330.8 L1891.5 331.8 L1893.2 332.7 L1895.0 333.7 L1896.7 334.7 L1898.5 335.6 L1900.2 336.6 L1901.9 337.6 L1903.7 338.6 L1905.4 339.6 L1907.1 340.6 L1908.8 341.7 L1910.6 342.7 L1912.3 343.7 L1914.0 344.8 L1915.7 345.8 L1917.4 346.9 L1919.1 348.0 L1920.8 349.0 L1922.5 350.1 L1924.2 351.2 L1925.9 352.3 L1927.6 353.4 L1929.2 354.5 L1930.9 355.6 L1932.6 356.7 L1934.3 357.8 L1935.9 359.0 L1937.6 360.1 L1939.3 361.2 L1940.9 362.4 L1942.6 363.5 L1944.3 364.7 L1945.9 365.8 L1947.6 367.0 L1949.2 368.1 L1950.9 369.3 L1952.5 370.5 L1954.2 371.6 L1955.8 372.8 L1957.4 374.0 L1959.1 375.2 L1960.7 376.4 L1962.3 377.6 L1964.0 378.8 L1965.6 380.0 L1967.2 381.2 L1968.9 382.4 L1970.5 383.6 L1972.1 384.8 L1973.7 386.0 L1975.3 387.2 L1976.9 388.4 L1978.6 389.6 L1980.2 390.8 L1981.8 392.1 L1983.4 393.3 L1985.0 394.5 L1986.6 395.7 L1988.2 397.0 L1989.8 398.2 L1991.4 399.4 L1993.0 400.6 L1994.6 401.9 L1996.2 403.1 L1997.8 404.3 L1999.4 405.5 L2001.0 406.8 L2002.5 408.0 L2004.1 409.2 L2005.7 410.4 L2007.3 411.7 L2008.9 412.9 L2010.5 414.1 L2012.0 415.3 L2013.6 416.6 L2015.2 417.8 L2016.8 419.0 L2018.4 420.2 L2019.9 421.5 L2021.5 422.7 L2023.1 423.9 L2024.7 425.1 L2026.2 426.3 L2027.8 427.6 L2029.4 428.8 L2030.9 430.0 L2032.5 431.2 L2034.1 432.4 L2035.7 433.7 L2037.2 434.9 L2038.8 436.1 L2040.4 437.3 L2041.9 438.5 L2043.5 439.8 L2045.1 441.0 L2046.6 442.2 L2048.2 443.4 L2049.8 444.6 L2051.3 445.8 L2052.9 447.0 L2054.5 448.3 L2056.0 449.5 L2057.6 450.7 L2059.2 451.9 L2060.7 453.1 L2062.3 454.3 L2063.9 455.5 L2065.4 456.8 L2067.0 458.0 L2068.6 459.2 L2070.1 460.4 L2071.7 461.6 L2073.3 462.8 L2074.8 464.0 L2076.4 465.2 L2078.0 466.4 L2079.6 467.6 L2081.1 468.8 L2082.7 470.0 L2084.3 471.2 L2085.8 472.5 L2087.4 473.7 L2089.0 474.9 L2090.6 476.1 L2092.2 477.3 L2093.7 478.5 L2095.3 479.7 L2096.9 480.9 L2098.5 482.1 L2100.1 483.3 L2101.7 484.5 L2103.2 485.7 L2104.8 486.9 L2106.4 488.1 L2108.0 489.3 L2109.6 490.5 L2111.2 491.7 L2112.8 492.8 L2114.4 494.0 L2116.0 495.2 L2117.6 496.4 L2119.2 497.6 L2120.8 498.8 L2122.4 500.0 L2124.0 501.2 L2125.6 502.4 L2127.2 503.6 L2128.8 504.8 L2130.4 506.0 L2132.1 507.1 L2133.7 508.3 L2135.3 509.5 L2136.9 510.7 L2138.5 511.9 L2140.2 513.1 L2141.8 514.2 L2143.4 515.4 L2145.1 516.6 L2146.7 517.8 L2148.3 519.0 L2150.0 520.2 L2151.6 521.3 L2153.3 522.5 L2154.9 523.7 L2156.6 524.9 L2158.2 526.0 L2159.9 527.2 L2161.5 528.4 L2163.2 529.6 L2164.9 530.7 L2166.5 531.9 L2168.2 533.1 L2172.5 536.6 L2176.0 541.5 L2176.9 550.5" stroke="#ff8000"/>
<path d="M319.6 81.0 L319.6 98.5 L323.3 100.2 L325.0 101.2 L326.7 102.1 L328.4 103.1 L330.2 104.1 L331.9 105.0 L333.6 106.0 L335.3 107.0 L337.1 108.0 L338.8 109.0 L340.5 110.0 L342.2 111.0 L344.0 111.9 L345.7 112.9 L347.4 113.9 L349.2 114.9 L350.9 115.9 L352.6 116.9 L354.4 117.9 L356.1 118.9 L357.8 119.9 L359.6 120.9 L361.3 121.9 L363.0 122.9 L364.8 123.9 L366.5 124.9 L368.3 125.9 L370.0 126.9 L371.7 127.9 L373.5 128.9 L375.2 129.9 L377.0 130.8 L378.7 131.8 L380.5 132.8 L382.2 133.8 L384.0 134.8 L385.8 135.7 L387.5 136.7 L389.3 137.7 L391.0 138.6 L392.8 139.6 L394.6 140.5 L396.3 141.5 L398.1 142.4 L399.9 143.4 L401.7 144.3 L403.4 145.2 L405.2 146.2 L407.0 147.1 L408.8 148.0 L410.6 148.9 L412.4 149.8 L414.2 150.7 L416.0 151.6 L417.8 152.5 L419.6 153.3 L421.4 154.2 L423.2 155.1 L425.0 155.9 L426.8 156.8 L428.6 157.6 L430.4 158.4 L432.3 159.2 L434.1 160.1 L435.9 160.9 L437.7 161.7 L439.6 162.4 L441.4 163.2 L443.3 164.0 L445.1 164.7 L447.0 165.5 L448.8 166.2 L450.7 167.0 L452.5 167.7 L454.4 168.4 L456.2 169.1 L458.1 169.8 L460.0 170.4 L461.9 171.1 L463.7 171.8 L465.6 172.4 L467.5 173.0 L469.4 173.7 L471.3 174.3 L473.2 174.9 L475.1 175.5 L477.0 176.1 L478.9 176.7 L480.8 177.3 L482.7 177.9 L484.6 178.4 L486.5 179.0 L488.4 179.6 L490.4 180.1 L492.3 180.7 L494.2 181.2 L496.1 181.7 L498.1 182.3 L500.0 182.8 L501.9 183.3 L503.8 183.8 L505.8 184.3 L507.7 184.8 L509.6 185.3 L511.6 185.8 L513.5 186.3 L515.4 186.8 L517.4 187.3 L519.3 187.8 L521.3 188.3 L523.2 188.7 L525.2 189.2 L527.1 189.7 L529.0 190.2 L531.0 190.7 L532.9 191.1 L534.9 191.6 L536.8 192.1 L538.8 192.5 L540.7 193.0 L542.7 193.5 L544.6 194.0 L546.6 194.4 L548.5 194.9 L550.4 195.4 L552.4 195.8 L554.3 196.3 L556.3 196.8 L558.2 197.3 L560.2 197.8 L562.1 198.2 L564.1 198.7 L566.0 199.2 L567.9 199.7 L569.9 200.2 L571.8 200.7 L573.8 201.2 L575.7 201.7 L577.6 202.2 L579.6 202.7 L581.5 203.3 L583.4 203.8 L585.4 204.3 L587.3 204.8 L589.2 205.4 L591.1 205.9 L593.1 206.5 L595.0 207.0 L596.9 207.6 L598.8 208.2 L600.7 208.8 L602.6 209.3 L604.5 209.9 L606.4 210.5 L608.4 211.1 L610.3 211.7 L612.2 212.3 L614.1 213.0 L616.0 213.6 L617.9 214.2 L619.7 214.8 L621.6 215.5 L623.5 216.1 L625.4 216.8 L627.3 217.4 L629.2 218.1 L631.1 218.8 L633.0 219.4 L634.9 220.1 L636.7 220.8 L638.6 221.4 L640.5 222.1 L642.4 222.8 L644.2 223.5 L646.1 224.2 L648.0 224.9 L649.9 225.6 L651.7 226.3 L653.6 227.0 L655.5 227.7 L657.4 228.5 L659.2 229.2 L661.1 229.9 L663.0 230.6 L664.8 231.3 L666.7 232.1 L668.5 232.8 L670.4 233.5 L672.3 234.3 L674.1 235.0 L676.0 235.8 L677.8 236.5 L679.7 237.2 L681.6 238.0 L683.4 238.7 L685.3 239.5 L687.1 240.2 L689.0 241.0 L690.9 241.7 L692.7 242.5 L694.6 243.3 L696.4 244.0 L698.3 244.8 L700.1 245.5 L702.0 246.3 L703.8 247.0 L705.7 247.8 L707.5 248.6 L709.4 249.3 L711.3 250.1 L713.1 250.8 L715.0 251.6 L716.8 252.4 L718.7 253.1 L720.5 253.9 L722.4 254.6 L724.2 255.4 L726.1 256.2 L727.9 256.9 L729.8 257.7 L731.6 258.4 L733.5 259.2 L735.4 259.9 L737.2 260.7 L739.1 261.4 L740.9 262.2 L742.8 262.9 L744.6 263.7 L746.5 264.4 L748.4 265.2 L750.2 265.9 L752.1 266.6 L754.0 267.4 L755.8 268.1 L757.7 268.8 L759.5 269.5 L761.4 270.3 L763.3 271.0 L765.1 271.7 L767.0 272.4 L768.9 273.1 L770.7 273.8 L772.6 274.5 L774.5 275.2 L776.4 275.9 L778.2 276.6 L780.1 277.3 L782.0 278.0 L783.9 278.7 L785.7 279.4 L787.6 280.0 L789.5 280.7 L791.4 281.4 L793.3 282.0 L795.2 282.7 L797.1 283.4 L798.9 284.0 L800.8 284.6 L802.7 285.3 L804.6 285.9 L806.5 286.6 L808.4 287.2 L810.3 287.8 L812.2 288.4 L814.1 289.0 L816.0 289.7 L817.9 290.3 L819.8 290.9 L821.7 291.5 L823.6 292.1 L825.5 292.7 L827.4 293.3 L829.3 293.8 L831.2 294.4 L833.1 295.0 L835.1 295.6 L837.0 296.2 L838.9 296.7 L840.8 297.3 L842.7 297.8 L844.6 298.4 L846.6 299.0 L848.5 299.5 L850.4 300.1 L852.3 300.6 L854.2 301.1 L856.2 301.7 L858.1 302.2 L860.0 302.7 L861.9 303.3 L863.9 303.8 L865.8 304.3 L867.7 304.8 L869.6 305.3 L871.6 305.9 L873.5 306.4 L875.4 306.9 L877.4 307.4 L879.3 307.9 L881.2 308.4 L883.2 308.9 L885.1 309.3 L887.0 309.8 L889.0 310.3 L890.9 310.8 L892.9 311.3 L894.8 311.7 L896.7 312.2 L898.7 312.7 L900.6 313.2 L902.6 313.6 L904.5 314.1 L906.5 314.5 L908.4 315.0 L910.4 315.4 L912.3 315.9 L914.2 316.3 L916.2 316.8 L918.1 317.2 L920.1 317.7 L922.0 318.1 L924.0 318.5 L925.9 319.0 L927.9 319.4 L929.9 319.8 L931.8 320.3 L933.8 320.7 L935.7 321.1 L937.7 321.5 L939.6 321.9 L941.6 322.3 L943.5 322.8 L945.5 323.2 L947.5 323.6 L949.4 324.0 L951.4 324.4 L953.3 324.8 L955.3 325.2 L957.3 325.6 L959.2 326.0 L961.2 326.4 L963.1 326.8 L965.1 327.1 L967.1 327.5 L969.0 327.9 L971.0 328.3 L973.0 328.7 L974.9 329.1 L976.9 329.4 L978.8 329.8 L980.8 330.2 L982.8 330.6 L984.7 330.9 L986.7 331.3 L988.7 331.7 L990.6 332.0 L992.6 332.4 L994.6 332.7 L996.5 333.1 L998.5 333.5 L1000.5 333.8 L1002.4 334.2 L1004.4 334.5 L1006.4 334.9 L1008.4 335.2 L1010.3 335.6 L1012.3 335.9 L1014.3 336.3 L1016.2 336.6 L1018.2 337.0 L1020.2 337.3 L1022.1 337.7 L1024.1 338.0 L1026.1 338.3 L1028.1 338.7 L1030.0 339.0 L1032.0 339.3 L1034.0 339.7 L1035.9 340.0 L1037.9 340.3 L1039.9 340.7 L1041.9 341.0 L1043.8 341.3 L1045.8 341.6 L1047.8 342.0 L1049.7 342.3 L1051.7 342.6 L1053.7 342.9 L1055.7 343.3 L1057.6 343.6 L1059.6 343.9 L1061.6 344.2 L1063.6 344.5 L1065.5 344.8 L1067.5 345.1 L1069.5 345.5 L1071.5 345.8 L1073.4 346.1 L1075.4 346.4 L1077.4 346.7 L1079.4 347.0 L1081.3 347.3 L1083.3 347.6 L1085.3 347.9 L1087.3 348.2 L1089.2 348.5 L1091.2 348.8 L1093.2 349.1 L1095.2 349.4 L1097.2 349.7 L1099.1 350.0 L1101.1 350.2 L1103.1 350.5 L1105.1 350.8 L1107.0 351.1 L1109.0 351.4 L1111.0 351.7 L1113.0 352.0 L1115.0 352.3 L1116.9 352.5 L1118.9 352.8 L1120.9 353.1 L1122.9 353.4 L1124.9 353.6 L1126.8 353.9 L1128.8 354.2 L1130.8 354.5 L1132.8 354.7 L1134.8 355.0 L1136.7 355.3 L1138.7 355.6 L1140.7 355.8 L1142.7 356.1 L1144.7 356.4 L1146.6 356.6 L1148.6 356.9 L1150.6 357.2 L1152.6 357.4 L1154.6 357.7 L1156.5 357.9 L1158.5 358.2 L1160.5 358.5 L1162.5 358.7 L1164.5 359.0 L1166.5 359.2 L1168.4 359.5 L1170.4 359.7 L1172.4 360.0 L1174.4 360.2 L1176.4 360.5 L1178.4 360.7 L1180.3 361.0 L1182.3 361.2 L1184.3 361.5 L1186.3 361.7 L1188.3 362.0 L1190.3 362.2 L1192.2 362.4 L1194.2 362.7 L1196.2 362.9 L1198.2 363.2 L1200.2 363.4 L1202.2 363.6 L1204.2 363.9 L1206.1 364.1 L1208.1 364.4 L1210.1 364.6 L1212.1 364.8 L1214.1 365.1 L1216.1 365.3 L1218.0 365.5 L1220.0 365.7 L1222.0 366.0 L1224.0 366.2 L1226.0 366.4 L1228.0 366.7 L1230.0 366.9 L1232.0 367.1 L1233.9 367.3 L1235.9 367.6 L1237.9 367.8 L1239.9 368.0 L1241.9 368.2 L1243.9 368.4 L1245.9 368.7 L1247.9 368.9 L1249.8 369.1 L1251.8 369.3 L1253.8 369.5 L1255.8 369.7 L1257.8 370.0 L1259.8 370.2 L1261.8 370.4 L1263.8 370.6 L1265.7 370.8 L1267.7 371.0 L1269.7 371.2 L1271.7 371.4 L1273.7 371.6 L1275.7 371.9 L1277.7 372.1 L1279.7 372.3 L1281.7 372.5 L1283.6 372.7 L1285.6 372.9 L1287.6 373.1 L1289.6 373.3 L1291.6 373.5 L1293.6 373.7 L1295.6 373.9 L1297.6 374.1 L1299.6 374.3 L1301.6 374.5 L1303.5 374.7 L1305.5 374.9 L1307.5 375.1 L1309.5 375.3 L1311.5 375.5 L1313.5 375.7 L1315.5 375.9 L1317.5 376.1 L1319.5 376.3 L1321.5 376.4 L1323.4 376.6 L1325.4 376.8 L1327.4 377.0 L1329.4 377.2 L1331.4 377.4 L1333.4 377.6 L1335.4 377.8 L1337.4 378.0 L1339.4 378.2 L1341.4 378.3 L1343.4 378.5 L1345.4 378.7 L1347.3 378.9 L1349.3 379.1 L1351.3 379.3 L1353.3 379.4 L1355.3 379.6 L1357.3 379.8 L1359.3 380.0 L1361.3 380.2 L1363.3 380.4 L1365.3 380.5 L1367.3 380.7 L1369.3 380.9 L1371.3 381.1 L1373.2 381.3 L1375.2 381.4 L1377.2 381.6 L1379.2 381.8 L1381.2 382.0 L1383.2 382.1 L1385.2 382.3 L1387.2 382.5 L1389.2 382.7 L1391.2 382.8 L1393.2 383.0 L1395.2 383.2 L1397.2 383.4 L1399.2 383.5 L1401.1 383.7 L1403.1 383.9 L1405.1 384.1 L1407.1 384.2 L1409.1 384.4 L1411.1 384.6 L1413.1 384.7 L1415.1 384.9 L1417.1 385.1 L1419.1 385.2 L1421.1 385.4 L1423.1 385.6 L1425.1 385.7 L1427.1 385.9 L1429.1 386.1 L1431.1 386.3 L1433.0 386.4 L1435.0 386.6 L1437.0 386.8 L1439.0 386.9 L1441.0 387.1 L1443.0 387.2 L1445.0 387.4 L1447.0 387.6 L1449.0 387.7 L1451.0 387.9 L1453.0 388.1 L1455.0 388.2 L1457.0 388.4 L1459.0 388.6 L1461.0 388.7 L1463.0 388.9 L1465.0 389.0 L1466.9 389.2 L1468.9 389.4 L1470.9 389.5 L1472.9 389.7 L1474.9 389.9 L1476.9 390.0 L1478.9 390.2 L1480.9 390.3 L1482.9 390.5 L1484.9 390.7 L1486.9 390.8 L1488.9 391.0 L1490.9 391.1 L1492.9 391.3 L1494.9 391.5 L1496.9 391.6 L1498.9 391.8 L1500.9 391.9 L1502.8 392.1 L1504.8 392.2 L1506.8 392.4 L1508.8 392.6 L1510.8 392.7 L1512.8 392.9 L1514.8 393.0 L1516.8 393.2 L1518.8 393.4 L1520.8 393.5 L1522.8 393.7 L1524.8 393.8 L1526.8 394.0 L1528.8 394.1 L1530.8 394.3 L1532.8 394.5 L1534.8 394.6 L1536.8 394.8 L1538.8 394.9 L1540.7 395.1 L1542.7 395.2 L1544.7 395.4 L1546.7 395.6 L1548.7 395.7 L1550.7 395.9 L1552.7 396.0 L1554.7 396.2 L1556.7 396.3 L1558.7 396.5 L1560.7 396.7 L1562.7 396.8 L1564.7 397.0 L1566.7 397.1 L1568.7 397.3 L1570.7 397.4 L1572.7 397.6 L1574.7 397.7 L1576.6 397.9 L1578.6 398.1 L1580.6 398.2 L1582.6 398.4 L1584.6 398.5 L1586.6 398.7 L1588.6 398.8 L1590.6 399.0 L1592.6 399.2 L1594.6 399.3 L1596.6 399.5 L1598.6 399.6 L1600.6 399.8 L1602.6 400.0 L1604.6 400.1 L1606.6 400.3 L1608.6 400.4 L1610.5 400.6 L1612.5 400.7 L1614.5 400.9 L1616.5 401.1 L1618.5 401.2 L1620.5 401.4 L1622.5 401.5 L1624.5 401.7 L1626.5 401.9 L1628.5 402.0 L1630.5 402.2 L1632.5 402.3 L1634.5 402.5 L1636.5 402.7 L1638.5 402.8 L1640.4 403.0 L1642.4 403.1 L1644.4 403.3 L1646.4 403.5 L1648.4 403.6 L1650.4 403.8 L1652.4 403.9 L1654.4 404.1 L1656.4 404.3 L1658.4 404.4 L1660.4 404.6 L1662.4 404.8 L1664.4 404.9 L1666.4 405.1 L1668.3 405.3 L1670.3 405.4 L1672.3 405.6 L1674.3 405.8 L1676.3 405.9 L1678.3 406.1 L1680.3 406.2 L1682.3 406.4 L1684.3 406.6 L1686.3 406.8 L1688.3 406.9 L1690.3 407.1 L1692.2 407.3 L1694.2 407.4 L1696.2 407.6 L1698.2 407.8 L1700.2 407.9 L1702.2 408.1 L1704.2 408.3 L1706.2 408.4 L1708.2 408.6 L1710.2 408.8 L1712.2 409.0 L1714.2 409.1 L1716.1 409.3 L1718.1 409.5 L1720.1 409.6 L1722.1 409.8 L1724.1 410.0 L1726.1 410.2 L1728.1 410.3 L1730.1 410.5 L1732.1 410.7 L1734.1 410.9 L1736.0 411.0 L1738.0 411.2 L1740.0 411.4 L1742.0 411.6 L1744.0 411.8 L1746.0 411.9 L1748.0 412.1 L1750.0 412.3 L1752.0 412.5 L1754.0 412.7 L1755.9 412.8 L1757.9 413.0 L1759.9 413.2 L1761.9 413.4 L1763.9 413.6 L1765.9 413.8 L1767.9 414.0 L1769.9 414.1 L1771.8 414.3 L1773.8 414.5 L1775.8 414.7 L1777.8 414.9 L1779.8 415.1 L1781.8 415.3 L1783.8 415.5 L1785.8 415.7 L1787.7 415.9 L1789.7 416.1 L1791.7 416.3 L1793.7 416.5 L1795.7 416.7 L1797.7 416.9 L1799.7 417.1 L1801.6 417.3 L1803.6 417.5 L1805.6 417.8 L1807.6 418.0 L1809.6 418.2 L1811.6 418.4 L1813.6 418.6 L1815.5 418.9 L1817.5 419.1 L1819.5 419.3 L1821.5 419.5 L1823.5 419.8 L1825.5 420.0 L1827.4 420.2 L1829.4 420.5 L1831.4 420.7 L1833.4 420.9 L1835.4 421.2 L1837.4 421.4 L1839.3 421.7 L1841.3 421.9 L1843.3 422.2 L1845.3 422.4 L1847.3 422.7 L1849.2 422.9 L1851.2 423.2 L1853.2 423.4 L1855.2 423.7 L1857.2 424.0 L1859.1 424.2 L1861.1 424.5 L1863.1 424.8 L1865.1 425.1 L1867.1 425.4 L1869.0 425.6 L1871.0 425.9 L1873.0 426.2 L1875.0 426.5 L1876.9 426.8 L1878.9 427.1 L1880.9 427.4 L1882.9 427.7 L1884.8 428.0 L1886.8 428.3 L1888.8 428.6 L1890.8 428.9 L1892.7 429.3 L1894.7 429.6 L1896.7 429.9 L1898.7 430.2 L1900.6 430.6 L1902.6 430.9 L1904.6 431.2 L1906.6 431.6 L1908.5 431.9 L1910.5 432.2 L1912.5 432.6 L1914.5 432.9 L1916.4 433.2 L1918.4 433.6 L1920.4 433.9 L1922.3 434.3 L1924.3 434.6 L1926.3 434.9 L1928.3 435.3 L1930.2 435.6 L1932.2 436.0 L1934.2 436.3 L1936.2 436.6 L1938.1 437.0 L1940.1 437.3 L1942.1 437.6 L1944.0 438.0 L1946.0 438.3 L1948.0 438.6 L1950.0 439.0 L1951.9 439.3 L1953.9 439.6 L1955.9 439.9 L1957.9 440.2 L1959.8 440.6 L1961.8 440.9 L1963.8 441.2 L1965.8 441.5 L1967.8 441.8 L1969.7 442.1 L1971.7 442.4 L1973.7 442.7 L1975.7 443.0 L1977.6 443.2 L1979.6 443.5 L1981.6 443.8 L1983.6 444.1 L1985.6 444.3 L1987.5 444.6 L1989.5 444.8 L1991.5 445.1 L1993.5 445.3 L1995.5 445.6 L1997.5 445.8 L1999.4 446.0 L2001.4 446.3 L2003.4 446.5 L2005.4 446.7 L2007.4 446.9 L2009.4 447.1 L2011.4 447.3 L2013.4 447.4 L2015.4 447.6 L2017.3 447.8 L2019.3 448.0 L2021.3 448.1 L2023.3 448.3 L2025.3 448.5 L2027.3 448.6 L2029.3 448.8 L2031.3 448.9 L2033.3 449.1 L2035.3 449.2 L2037.3 449.4 L2039.3 449.5 L2041.3 449.7 L2043.2 449.8 L2045.2 450.0 L2047.2 450.1 L2049.2 450.3 L2051.2 450.4 L2053.2 450.5 L2055.2 450.7 L2057.2 450.8 L2059.2 451.0 L2061.2 451.1 L2063.2 451.3 L2065.2 451.4 L2067.2 451.6 L2069.2 451.7 L2071.1 451.9 L2073.1 452.1 L2075.1 452.2 L2077.1 452.4 L2079.1 452.6 L2081.1 452.8 L2083.1 452.9 L2085.1 453.1 L2087.1 453.3 L2089.0 453.5 L2091.0 453.7 L2093.0 453.9 L2095.0 454.1 L2097.0 454.4 L2099.0 454.6 L2101.0 454.8 L2102.9 455.1 L2104.9 455.3 L2106.9 455.6 L2108.9 455.8 L2110.9 456.1 L2112.8 456.4 L2114.8 456.6 L2116.8 456.9 L2118.8 457.2 L2120.7 457.5 L2122.7 457.8 L2124.7 458.1 L2126.7 458.4 L2128.6 458.7 L2130.6 459.1 L2132.6 459.4 L2134.5 459.7 L2136.5 460.1 L2138.5 460.4 L2140.5 460.8 L2142.4 461.2 L2144.4 461.5 L2146.4 461.9 L2148.3 462.3 L2150.3 462.7 L2152.2 463.1 L2154.2 463.5 L2156.2 463.9 L2158.1 464.3 L2160.1 464.7 L2162.1 465.1 L2164.0 465.6 L2166.0 466.0 L2167.9 466.5 L2169.9 466.9 L2171.9 467.4 L2176.9 467.9 L2176.9 471.5" stroke="#008000"/>
</g>
<line x1="317.9" y1="212.5" x2="2173.0" y2="212.5" stroke="#ff8000" stroke-width="5.0" stroke-linecap="round" stroke-dasharray="17.00 19.00" fill="none"/>
<line x1="315.6" y1="337.0" x2="2173.0" y2="337.0" stroke="#008000" stroke-width="4.2" stroke-linecap="butt" stroke-dasharray="21.6 14.4" fill="none"/>
<line x1="315.6" y1="471.9" x2="2173.0" y2="471.9" stroke="#008000" stroke-width="4.2" stroke-linecap="butt" stroke-dasharray="21.6 14.4" fill="none"/>
<line x1="315.6" y1="546.8" x2="2173.0" y2="546.8" stroke="#ff8000" stroke-width="4.1" stroke-linecap="butt" stroke-dasharray="21.6 14.4" fill="none"/>
<line x1="318.0" y1="581.1" x2="2173.0" y2="581.1" stroke="#800000" stroke-width="5.2" stroke-linecap="round" stroke-dasharray="16.80 19.20" fill="none"/>
<line x1="318.0" y1="1422.3" x2="2173.0" y2="1422.3" stroke="#800000" stroke-width="5.2" stroke-linecap="round" stroke-dasharray="16.80 19.20" fill="none"/>
<g fill="none" stroke="#000" stroke-linecap="round">
<line x1="639.5" y1="81.1" x2="639.5" y2="1562.5" stroke-width="5.2" stroke-dasharray="15.80 19.95"/>
<line x1="1007.0" y1="80.6" x2="1007.0" y2="1562.5" stroke-width="4.2" stroke-dasharray="16.80 18.95"/>
</g>
<text class="b" font-size="77.7" text-anchor="middle" transform="translate(629.4 1654.9) scale(1 1.015)">200</text>
<text class="b" font-size="77.7" text-anchor="middle" transform="translate(972.9 1654.9) scale(1 1.015)">400</text>
<text class="b" font-size="77.7" text-anchor="middle" transform="translate(1316.5 1654.9) scale(1 1.015)">600</text>
<text class="b" font-size="77.7" text-anchor="middle" transform="translate(1660.2 1654.9) scale(1 1.015)">800</text>
<text class="b" font-size="77.7" text-anchor="middle" transform="translate(2004.2 1654.9) scale(1 1.015)">1000</text>
<text class="b" font-size="77.7" text-anchor="end" transform="translate(288.0 101.0) scale(1 1.015)">100</text>
<text class="b" font-size="77.7" text-anchor="end" transform="translate(288.0 472.1) scale(1 1.015)">90</text>
<text class="b" font-size="77.7" text-anchor="end" transform="translate(288.0 843.2) scale(1 1.015)">80</text>
<text class="b" font-size="77.7" text-anchor="end" transform="translate(288.0 1214.3) scale(1 1.015)">70</text>
<text class="b" font-size="77.7" text-anchor="end" transform="translate(288.0 1585.4) scale(1 1.015)">60</text>
<text class="b" font-size="78" text-anchor="middle" transform="translate(1248.5 1794.3) scale(1 1.02)">Temperature (°C)</text>
<text class="b" font-size="91.5" text-anchor="middle" transform="translate(103.7 826.7) rotate(-90) scale(1 1.02)">Sample weight (%)</text>
<line x1="1820.7" y1="212.7" x2="1820.7" y2="510.2" stroke="#ff8000" stroke-width="3"/>
<polygon points="1810.1,508.2 1831.3,508.2 1820.7,547.0" fill="#ff8000"/>
<line x1="2108.5" y1="337.0" x2="2108.5" y2="431.2" stroke="#008000" stroke-width="3"/>
<polygon points="2097.9,429.2 2119.1,429.2 2108.5,468.0" fill="#008000"/>
<line x1="1674.7" y1="581.1" x2="1674.7" y2="1385.8" stroke="#800000" stroke-width="3"/>
<polygon points="1664.1,1383.8 1685.3,1383.8 1674.7,1422.6" fill="#800000"/>
<line x1="359.3" y1="1524.4" x2="602.7" y2="1524.4" stroke="#000" stroke-width="3"/>
<polygon points="322.5,1524.4 361.3,1513.8 361.3,1535.0" fill="#000"/>
<polygon points="639.5,1524.4 600.7,1513.8 600.7,1535.0" fill="#000"/>
<line x1="680.8" y1="1524.4" x2="971.2" y2="1524.4" stroke="#000" stroke-width="3"/>
<polygon points="644.0,1524.4 682.8,1513.8 682.8,1535.0" fill="#000"/>
<polygon points="1008.0,1524.4 969.2,1513.8 969.2,1535.0" fill="#000"/>
<line x1="1046.8" y1="1524.4" x2="2137.2" y2="1524.4" stroke="#000" stroke-width="3"/>
<polygon points="1010.0,1524.4 1048.8,1513.8 1048.8,1535.0" fill="#000"/>
<polygon points="2174.0,1524.4 2135.2,1513.8 2135.2,1535.0" fill="#000"/>
<text class="bi" font-size="60.8" fill="#ff8000" transform="translate(1732.3 396.8) scale(1 1.015)">8%</text>
<text class="bi" font-size="61.5" fill="#008000" transform="translate(2015.7 405.8) scale(1 1.015)">4%</text>
<text class="bi" font-size="61.5" fill="#800000" transform="translate(1549.4 931.6) scale(1 1.015)">23%</text>
<text class="bi" font-size="56.1" transform="translate(362.7 1478.3) scale(1 1.03)">Moisture</text>
<text class="bi" font-size="42.3" transform="translate(649.5 1388.5) scale(1 1.03)">De-volatilisation</text>
<text class="bi" font-size="42.3" transform="translate(650.0 1483.0) scale(1 1.03)">of residual oil</text>
<text class="bi" font-size="56" transform="translate(0 1481.2) scale(1 1.03)"><tspan x="1250" y="0">C + S + O</tspan><tspan font-size="32.5" x="1499.2" y="19.0">2</tspan><tspan class="ar" font-size="58" x="1530.3" y="7.6">→</tspan><tspan x="1603.4" y="0">CO</tspan><tspan font-size="32.5" x="1687.4" y="19.0">2</tspan><tspan x="1721.1" y="0">+ SO</tspan><tspan font-size="32.5" x="1850.4" y="19.0">x</tspan></text>
<g stroke-width="6.8" stroke-linecap="round">
<line x1="1709.5" y1="870.5" x2="1842.8" y2="870.5" stroke="#800000"/>
<line x1="1709.5" y1="945.9" x2="1842.8" y2="945.9" stroke="#ff8000"/>
<line x1="1709.5" y1="1022.0" x2="1842.8" y2="1022.0" stroke="#008000"/>
</g>
<text class="b" font-size="60.1" transform="translate(1860.6 890.0) scale(1 1.03)">NMA - OW</text>
<text class="b" font-size="60.1" transform="translate(1860.6 965.8) scale(1 1.03)">NMA - CI</text>
<text class="b" font-size="60.1" transform="translate(1860.6 1041.6) scale(1 1.03)">NMA - AL</text>
</svg>
</body></html>
